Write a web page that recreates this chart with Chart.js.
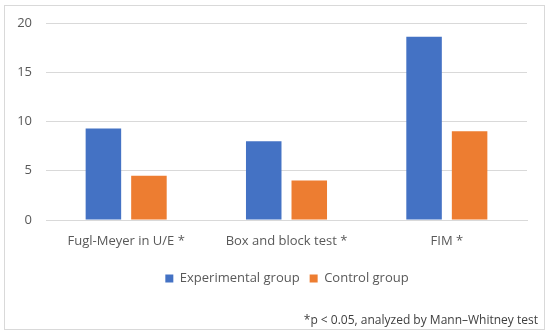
<!DOCTYPE html>
<html lang="en">
  <head>
    <meta charset="UTF-8" />
    <title>Group comparison</title>
    <script src="https://cdn.jsdelivr.net/npm/chart.js"></script>
    <style>
      body {
        margin: 0;
        background: #fff;
        font-family: "Open Sans", sans-serif;
      }
      .chart-box {
        position: absolute;
        left: 4px;
        top: 5px;
        width: 539px;
        height: 323px;
        border: 1px solid #d9d9d9;
      }
      canvas {
        position: absolute;
        left: 0;
        top: 0;
      }
      .note {
        position: absolute;
        right: 6px;
        bottom: 1px;
        font-size: 12px;
        color: #404040;
      }
    </style>
  </head>
  <body>
    <div class="chart-box">
      <canvas id="groupChart" width="539" height="323"></canvas>
      <div class="note">*p &lt; 0.05, analyzed by Mann–Whitney test</div>
    </div>

    <script>
      const categories = ["Fugl-Meyer in U/E *", "Box and block test *", "FIM *"];
      const experimental = [9.3, 8.0, 18.6];
      const control = [4.5, 4.0, 9.0];
      const yTicks = [0, 5, 10, 15, 20];

      const textColor = "#595959";

      // move the legend so it is centred under the plot area
      const legendShift = {
        id: "legendShift",
        afterLayout(chart) {
          chart.legend.left += 21;
          chart.legend.right += 21;
        },
      };

      new Chart(document.getElementById("groupChart"), {
        type: "bar",
        data: {
          labels: categories,
          datasets: [
            {
              label: "Experimental group",
              data: experimental,
              backgroundColor: "#4472c4",
            },
            {
              label: "Control group",
              data: control,
              backgroundColor: "#ed7d31",
            },
          ],
        },
        plugins: [legendShift],
        options: {
          responsive: false,
          animation: false,
          layout: { padding: { top: 17, right: 17, left: 0, bottom: 34 } },
          datasets: {
            bar: { categoryPercentage: 0.568, barPercentage: 0.78 },
          },
          plugins: {
            legend: {
              position: "bottom",
              labels: {
                boxWidth: 8,
                boxHeight: 8,
                padding: 10,
                color: textColor,
                font: { family: "Open Sans", size: 13 },
              },
            },
            tooltip: { enabled: false },
          },
          scales: {
            x: {
              grid: { display: false, drawTicks: false },
              border: { color: "#d9d9d9" },
              ticks: {
                color: textColor,
                padding: 13,
                font: { family: "Open Sans", size: 13 },
              },
              afterFit: (s) => {
                s.height = 42;
                s.paddingLeft = 0;
                s.paddingRight = 0;
              },
            },
            y: {
              min: 0,
              max: 20,
              afterBuildTicks: (s) => {
                s.ticks = yTicks.map((v) => ({ value: v }));
              },
              grid: { color: "#d9d9d9", drawTicks: false },
              border: { display: false },
              ticks: {
                color: textColor,
                padding: 14,
                font: { family: "Open Sans", size: 13 },
              },
              afterFit: (s) => {
                s.width = 41;
                s.paddingTop = 0;
                s.paddingBottom = 0;
              },
            },
          },
        },
      });
    </script>
  </body>
</html>
